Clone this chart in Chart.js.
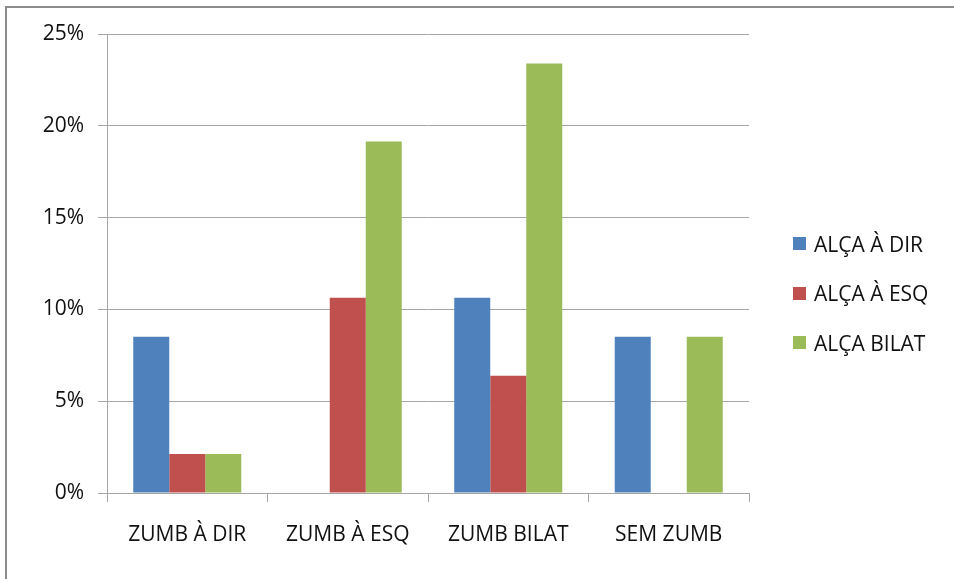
<!DOCTYPE html>
<html>
<head>
<meta charset="utf-8">
<script src="https://cdn.jsdelivr.net/npm/chart.js@4/dist/chart.umd.min.js"></script>
<style>
  html, body { margin: 0; padding: 0; background: #fff; }
  #wrap { position: relative; width: 954px; height: 579px; overflow: hidden; }
  #frame { position: absolute; left: 5px; top: 6px; width: 960px; height: 590px; border: 2px solid #8c8c8c; box-sizing: border-box; }
  canvas { position: absolute; left: 0; top: 0; }
  #legend { position: absolute; left: 793px; top: 219px; font-family: "Open Sans", sans-serif; font-size: 21px; color: #111; }
  .item { height: 49.5px; display: flex; align-items: center; }
  .sw { width: 13px; height: 13px; margin-right: 8px; }
</style>
</head>
<body>
<div id="wrap">
  <div id="frame"></div>
  <canvas id="c" width="954" height="579"></canvas>
  <div id="legend"></div>
</div>
<script>
// Dados
const categorias = ['ZUMB À DIR', 'ZUMB À ESQ', 'ZUMB BILAT', 'SEM ZUMB'];
const alcaDir   = [8.51, 0, 10.64, 8.51];
const alcaEsq   = [2.13, 10.64, 6.38, 0];
const alcaBilat = [2.13, 19.15, 23.40, 8.51];
const nomes  = ['ALÇA À DIR', 'ALÇA À ESQ', 'ALÇA BILAT'];
const cores  = ['#4f81bd', '#c0504d', '#9bbb59'];

const gray = '#a6a6a6';
const fonte = { family: '"Open Sans", sans-serif', size: 21 };

const chart = new Chart(document.getElementById('c').getContext('2d'), {
    type: 'bar',
    data: {
        labels: categorias,
        datasets: [alcaDir, alcaEsq, alcaBilat].map((d, i) => ({
            label: nomes[i],
            data: d,
            backgroundColor: cores[i],
            borderWidth: 0,
            categoryPercentage: 0.673,
            barPercentage: 1
        }))
    },
    options: {
        responsive: false,
        animation: false,
        layout: { padding: { left: 0, top: 34, right: 205, bottom: 0 } },
        plugins: { legend: { display: false }, tooltip: { enabled: false } },
        scales: {
            x: {
                offset: true,
                grid: { offset: true, drawOnChartArea: false, color: gray, tickLength: 9 },
                border: { color: gray, width: 1 },
                ticks: { color: '#111', font: fonte, padding: 20, maxRotation: 0 },
                afterFit: s => { s.height = 86; }
            },
            y: {
                min: 0, max: 25,
                ticks: { stepSize: 5, color: '#111', font: fonte, padding: 14, callback: v => v + '%' },
                grid: { color: gray, tickLength: 9 },
                border: { color: gray, width: 1 },
                afterFit: s => { s.width = 107; }
            }
        }
    }
});

// Legenda
const leg = document.getElementById('legend');
nomes.forEach((n, i) => {
    const row = document.createElement('div');
    row.className = 'item';
    row.innerHTML = '<span class="sw" style="background:' + cores[i] + '"></span>' + n;
    leg.appendChild(row);
});
</script>
</body>
</html>
